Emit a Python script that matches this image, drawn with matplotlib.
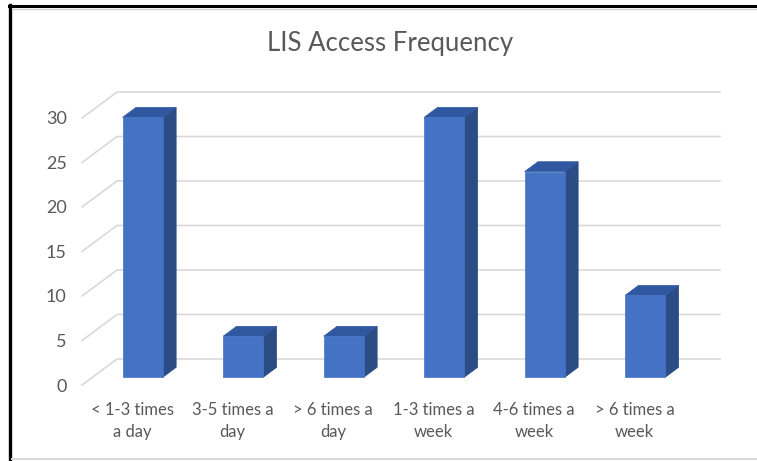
import numpy as np
import matplotlib.pyplot as plt
from matplotlib.patches import Polygon
from matplotlib.lines import Line2D
from matplotlib.transforms import IdentityTransform

plt.rcParams['font.family'] = ['Lato', 'DejaVu Sans']

categories = ['< 1-3 times\na day', '3-5 times a\nday', '> 6 times a\nday',
              '1-3 times a\nweek', '4-6 times a\nweek', '> 6 times a\nweek']
values = [29.2, 4.6, 4.6, 29.2, 23.1, 9.2]
yticks = [0, 5, 10, 15, 20, 25, 30]

W, H = 757, 461
fig = plt.figure(figsize=(W / 100, H / 100), dpi=100)

# front plane of the 3d box, in pixels
left, right, bottom, top = 82, 685, 385, 118
ax = fig.add_axes([left / W, (H - bottom) / H, (right - left) / W, (bottom - top) / H])
ax.set_xlim(-0.5, len(categories) - 0.5)
ax.set_ylim(0, 30)
for s in ax.spines.values():
    s.set_visible(False)

# depth of the box (pixels right / up)
DX, DY = 35, 26
txt = '#595959'
grid = '#D9D9D9'

def proj(x, v, d):
    px, py = ax.transData.transform((x, v))
    return (px + d * DX, py + d * DY)

ident = IdentityTransform()

# gridlines: short diagonal on the floor side plus the line on the back wall
x0, x1 = ax.get_xlim()
for v in yticks:
    a, b, c = proj(x0, v, 0), proj(x0, v, 1), proj(x1, v, 1)
    ax.add_line(Line2D([a[0], b[0], c[0]], [a[1], b[1], c[1]], color=grid,
                       lw=1.2, transform=ident, clip_on=False, zorder=1))

# bars as boxes: front, side and top faces
w = 0.2
d0, d1 = 0.3, 0.68
front_c, side_c, top_c = '#4472C4', '#2C4C86', '#3058A0'
for i, v in enumerate(values):
    front = [proj(i - w, 0, d0), proj(i + w, 0, d0), proj(i + w, v, d0), proj(i - w, v, d0)]
    side = [proj(i + w, 0, d0), proj(i + w, 0, d1), proj(i + w, v, d1), proj(i + w, v, d0)]
    topf = [proj(i - w, v, d0), proj(i + w, v, d0), proj(i + w, v, d1), proj(i - w, v, d1)]
    for pts, col in ((side, side_c), (topf, top_c), (front, front_c)):
        ax.add_patch(Polygon(pts, closed=True, facecolor=col, edgecolor=col,
                             lw=0.5, transform=ident, clip_on=False, zorder=3))

ax.set_yticks(yticks)
ax.set_yticklabels([str(t) for t in yticks])
ax.set_xticks(range(len(categories)))
ax.set_xticklabels(categories, linespacing=1.45)
ax.tick_params(axis='y', length=0, pad=11, labelsize=13, labelcolor=txt)
ax.tick_params(axis='x', length=0, pad=12, labelsize=12, labelcolor=txt)

fig.text(390 / W, 1 - 44 / H, 'LIS Access Frequency', ha='center', va='center',
         fontsize=18.5, color=txt)

# frame around the chart
fig.add_artist(Line2D([10, 10], [0, H - 5], color='black', lw=2.4, transform=ident))
fig.add_artist(Line2D([9, W], [H - 6, H - 6], color='black', lw=2.2, transform=ident))
fig.add_artist(Line2D([12, W], [H - 8.5, H - 8.5], color='#D0D0D0', lw=1, transform=ident))
fig.add_artist(Line2D([12, W], [2, 2], color=grid, lw=1.5, transform=ident))

fig.savefig('out.png', dpi=100)
